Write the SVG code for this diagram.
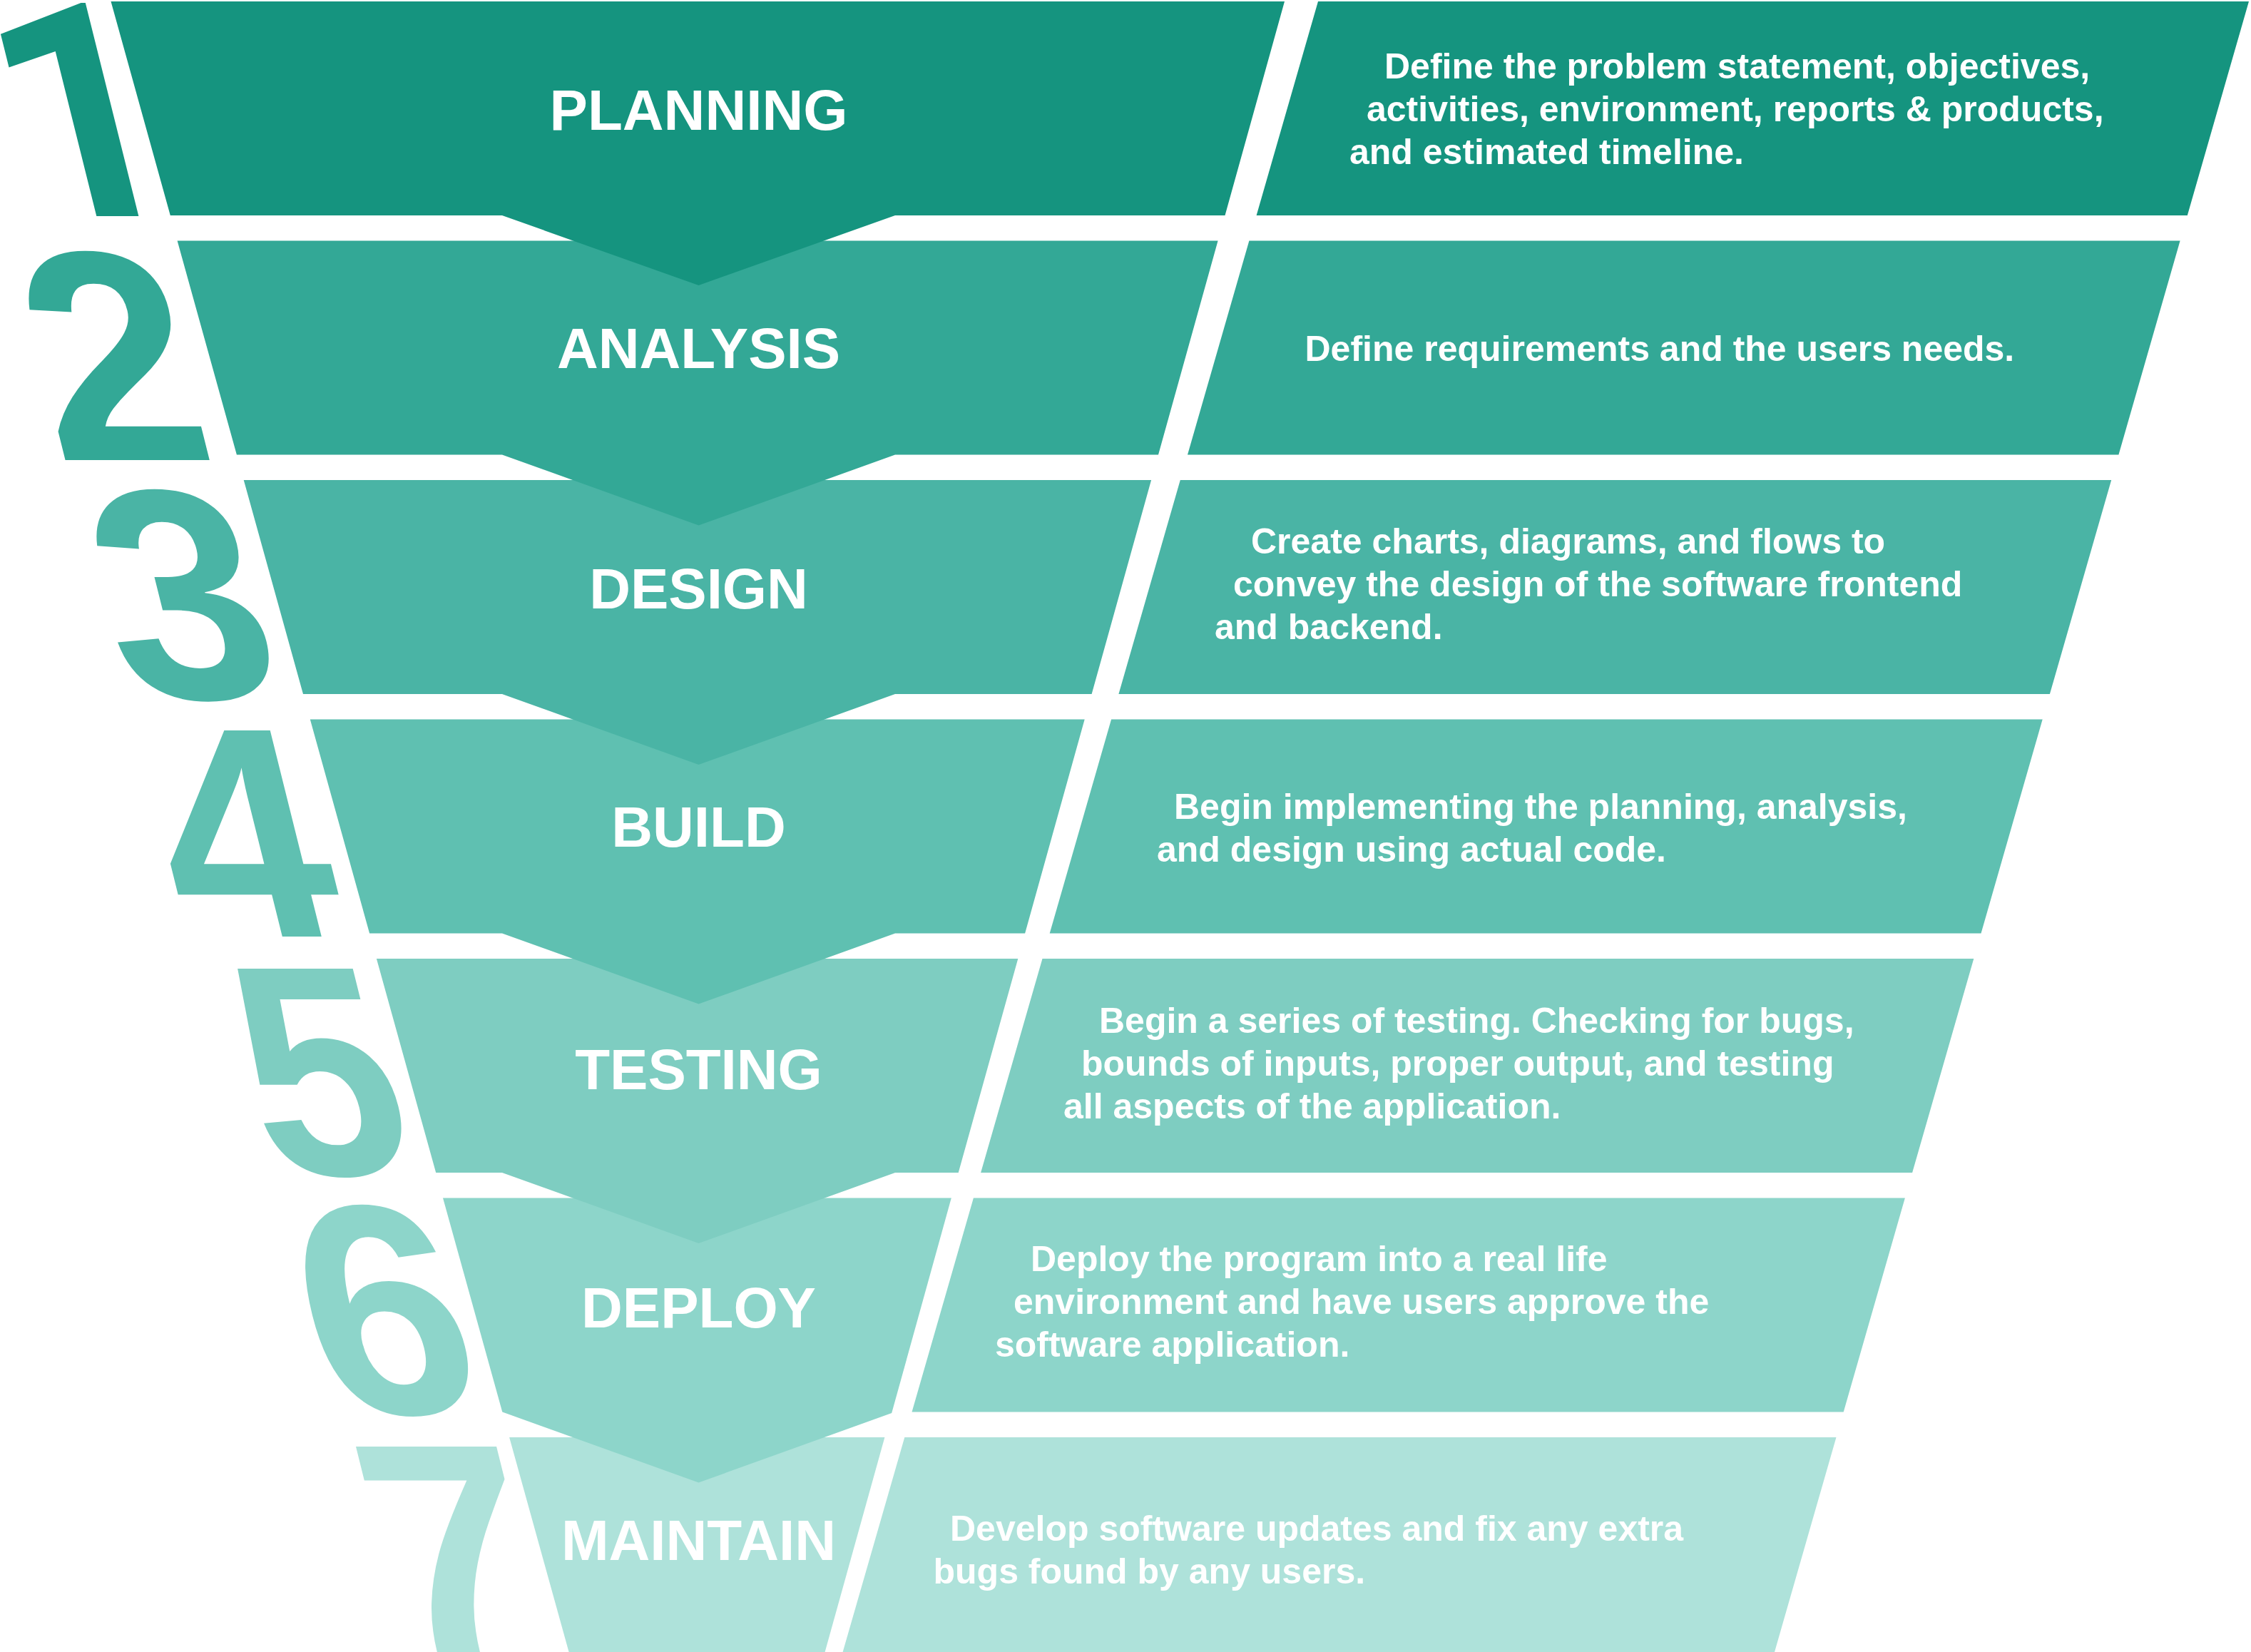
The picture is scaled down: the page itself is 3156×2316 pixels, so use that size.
<svg xmlns="http://www.w3.org/2000/svg" width="3156" height="2316" viewBox="0 0 3156 2316">
  <style>
    .num { font-family: "Liberation Sans", Arial, sans-serif; font-weight: bold; font-size: 420px; }
    .num-one { font-family: Roboto, "Noto Sans", sans-serif; }
    .title { font-family: "Liberation Sans", Arial, sans-serif; font-weight: bold; font-size: 80px; fill: #ffffff; text-anchor: middle; }
    .desc { font-family: "Liberation Sans", Arial, sans-serif; font-weight: bold; font-size: 50px; fill: #ffffff; }
    .c1 { fill: #15947f; }
    .c2 { fill: #33a896; }
    .c3 { fill: #4ab4a5; }
    .c4 { fill: #5fc0b1; }
    .c5 { fill: #7ecdc1; }
    .c6 { fill: #8dd5ca; }
    .c7 { fill: #aee2da; }
  </style>
  <rect width="3156" height="2316" fill="#ffffff"/>

  <!-- steps are painted bottom-up so each chevron overlaps the band below it -->
  <g id="step-7">
    <text class="num c7" transform="translate(553,2317) skewX(14)">7</text>
    <polygon class="c7" points="714.1,2015 1240.4,2015 1156.6,2316 797.6,2316"/>
    <text class="title" x="979.5" y="2187">MAINTAIN</text>
    <polygon class="c7" points="1268.3,2015 2574.5,2015 2488,2316 1181.6,2316"/>
    <text class="desc"><tspan x="1332" y="2160">Develop software updates and fix any extra</tspan><tspan x="1308.5" y="2220">bugs found by any users.</tspan></text>
  </g>

  <g id="step-6">
    <text class="num c6" transform="translate(457,1982) skewX(14)">6</text>
    <polygon class="c6" points="621,1679.5 1333.8,1679.5 1250.2,1981 979.5,2078.5 704.3,1979.5"/>
    <text class="title" x="979.5" y="1861">DEPLOY</text>
    <polygon class="c6" points="1364.9,1679.5 2670.9,1679.5 2584.7,1979.5 1278.5,1979.5"/>
    <text class="desc"><tspan x="1445" y="1782">Deploy the program into a real life</tspan><tspan x="1421" y="1842">environment and have users approve the</tspan><tspan x="1395" y="1902">software application.</tspan></text>
  </g>

  <g id="step-5">
    <text class="num c5" transform="translate(376,1647) skewX(14) scale(0.93,1)">5</text>
    <polygon class="c5" points="527.9,1344 1427.3,1344 1343.7,1644 1255,1644 979.5,1743 704,1644 611.2,1644"/>
    <text class="title" x="979.5" y="1527">TESTING</text>
    <polygon class="c5" points="1461.5,1344 2767.3,1344 2681.1,1644 1375.1,1644"/>
    <text class="desc"><tspan x="1541" y="1448">Begin a series of testing. Checking for bugs,</tspan><tspan x="1516" y="1508">bounds of inputs, proper output, and testing</tspan><tspan x="1491" y="1568">all aspects of the application.</tspan></text>
  </g>

  <g id="step-4">
    <text class="num c4" transform="translate(258,1313) skewX(14)">4</text>
    <polygon class="c4" points="434.8,1008.5 1520.7,1008.5 1437.1,1308.5 1255,1308.5 979.5,1407.5 704,1308.5 518.1,1308.5"/>
    <text class="title" x="979.5" y="1187">BUILD</text>
    <polygon class="c4" points="1558.1,1008.5 2863.7,1008.5 2777.5,1308.5 1471.7,1308.5"/>
    <text class="desc"><tspan x="1646" y="1148">Begin implementing the planning, analysis,</tspan><tspan x="1622" y="1208">and design using actual code.</tspan></text>
  </g>

  <g id="step-3">
    <text class="num c3" transform="translate(175,979) skewX(14)">3</text>
    <polygon class="c3" points="341.7,673 1614.1,673 1530.6,973 1255,973 979.5,1072 704,973 425,973"/>
    <text class="title" x="979.5" y="853">DESIGN</text>
    <polygon class="c3" points="1654.8,673 2960.2,673 2873.9,973 1568.4,973"/>
    <text class="desc"><tspan x="1754" y="776">Create charts, diagrams, and flows to</tspan><tspan x="1729" y="836">convey the design of the software frontend</tspan><tspan x="1703" y="896">and backend.</tspan></text>
  </g>

  <g id="step-2">
    <text class="num c2" transform="translate(77,645) skewX(14)">2</text>
    <polygon class="c2" points="248.6,337.5 1707.6,337.5 1624,637.5 1255,637.5 979.5,736.5 704,637.5 331.9,637.5"/>
    <text class="title" x="979.5" y="516">ANALYSIS</text>
    <polygon class="c2" points="1751.4,337.5 3056.6,337.5 2970.4,637.5 1665,637.5"/>
    <text class="desc"><tspan x="1829.5" y="506">Define requirements and the users needs.</tspan></text>
  </g>

  <g id="step-1">
    <text class="num num-one c1" transform="translate(30,303) skewX(14)">1</text>
    <polygon class="c1" points="155.5,2 1801,2 1717.5,302 1255,302 979.5,400 704,302 238.8,302"/>
    <text class="title" x="979.5" y="182">PLANNING</text>
    <polygon class="c1" points="1848,2 3153,2 3066.8,302 1761.6,302"/>
    <text class="desc"><tspan x="1941" y="110">Define the problem statement, objectives,</tspan><tspan x="1916" y="170">activities, environment, reports &amp; products,</tspan><tspan x="1892" y="230">and estimated timeline.</tspan></text>
  </g>
</svg>
